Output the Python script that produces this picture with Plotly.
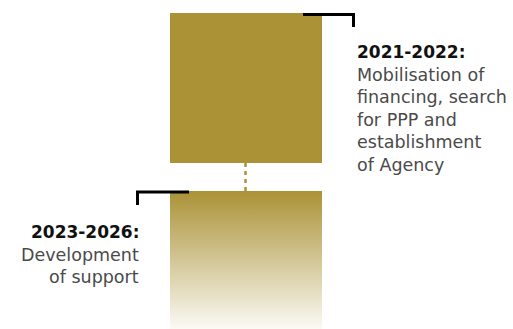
import plotly.graph_objects as go

# phases of the roadmap (top to bottom)
phase_labels = ["2021-2022:", "2023-2026:"]
phase_lines = [
    ["Mobilisation of", "financing, search", "for PPP and", "establishment", "of Agency"],
    ["Development", "of support"],
]
# vertical extent of each phase block (diagram units, downward)
phase_start = [13, 191]
phase_end = [163, 336]

GOLD = "rgb(171,146,54)"
FONT = "DejaVu Sans"

bar_x = 246
bar_w = 152

fig = go.Figure()

# first phase: solid block
fig.add_trace(
    go.Bar(
        x=[bar_x],
        y=[phase_end[0] - phase_start[0]],
        base=[phase_start[0]],
        width=bar_w,
        marker=dict(color=GOLD, line=dict(width=0)),
        hoverinfo="skip",
        showlegend=False,
    )
)

# second phase: block fading out to white
x0, x1 = bar_x - bar_w / 2, bar_x + bar_w / 2
fig.add_trace(
    go.Scatter(
        x=[x0, x1, x1, x0, x0],
        y=[phase_start[1], phase_start[1], phase_end[1], phase_end[1], phase_start[1]],
        mode="lines",
        line=dict(width=0),
        fill="toself",
        fillgradient=dict(
            type="vertical",
            colorscale=[[0, GOLD], [1, "rgb(255,255,255)"]],
            start=phase_start[1],
            stop=phase_end[1],
        ),
        hoverinfo="skip",
        showlegend=False,
    )
)

# dotted connector between the blocks
fig.add_trace(
    go.Scatter(
        x=[bar_x - 0.5, bar_x - 0.5],
        y=[phase_end[0], phase_start[1]],
        mode="lines",
        line=dict(color=GOLD, width=2.5, dash="4px,4px"),
        hoverinfo="skip",
        showlegend=False,
    )
)

# bracket marks
fig.add_trace(
    go.Scatter(
        x=[303, 353.5, 353.5],
        y=[14.5, 14.5, 27],
        mode="lines",
        line=dict(color="#000", width=3),
        hoverinfo="skip",
        showlegend=False,
    )
)
fig.add_trace(
    go.Scatter(
        x=[189, 137.5, 137.5],
        y=[192, 192, 205],
        mode="lines",
        line=dict(color="#000", width=3),
        hoverinfo="skip",
        showlegend=False,
    )
)

# text blocks
blocks = [
    dict(x=355, y=52, anchor="left"),
    dict(x=141, y=232, anchor="right"),
]
spacing = 22.6
for label, lines, b in zip(phase_labels, phase_lines, blocks):
    fig.add_annotation(
        x=b["x"], y=b["y"], xref="x", yref="y",
        text=f"<b>{label}</b>", showarrow=False,
        xanchor=b["anchor"], yanchor="middle",
        font=dict(family=FONT, size=17, color="#111"),
    )
    for i, line in enumerate(lines):
        fig.add_annotation(
            x=b["x"], y=b["y"] + spacing * (i + 1), xref="x", yref="y",
            text=line, showarrow=False,
            xanchor=b["anchor"], yanchor="middle",
            font=dict(family=FONT, size=17.5, color="#4a4a4a"),
        )

fig.update_layout(
    width=513,
    height=329,
    margin=dict(l=0, r=0, t=0, b=0),
    paper_bgcolor="white",
    plot_bgcolor="white",
    xaxis=dict(range=[0, 513], visible=False, fixedrange=True),
    yaxis=dict(range=[329, 0], visible=False, fixedrange=True),
    bargap=0,
)

fig.write_html(
    "out.html",
    config={"displayModeBar": False},
    post_script="document.body.style.margin='0';",
)
